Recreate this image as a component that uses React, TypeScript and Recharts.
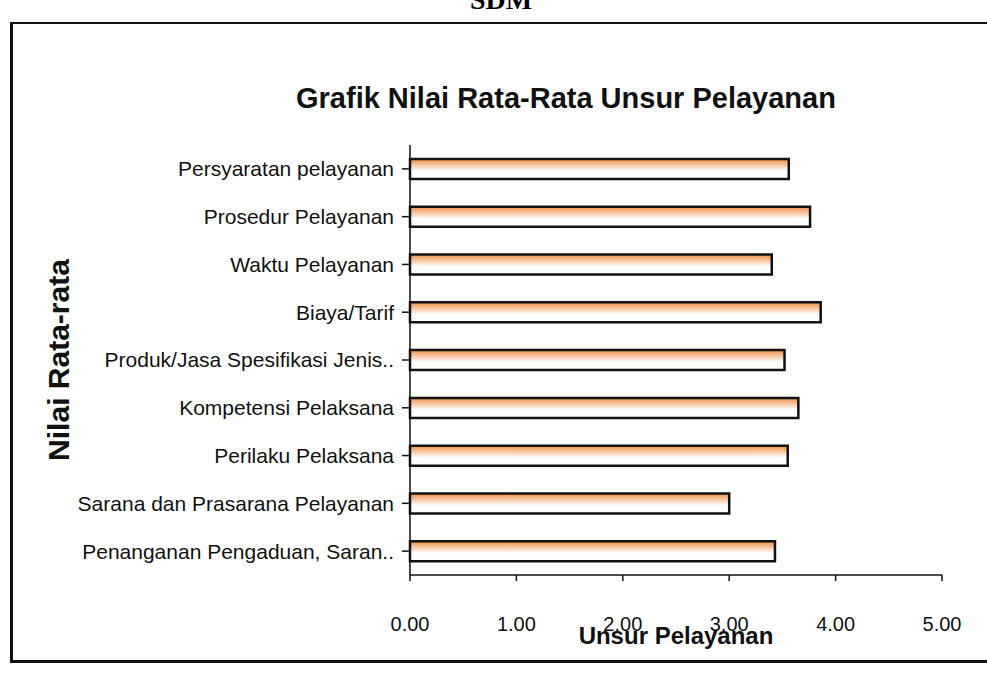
import React from 'react'
import { Bar, BarChart, Label, XAxis, YAxis } from 'recharts'

const categories = [
  'Persyaratan pelayanan',
  'Prosedur Pelayanan',
  'Waktu Pelayanan',
  'Biaya/Tarif',
  'Produk/Jasa Spesifikasi Jenis..',
  'Kompetensi Pelaksana',
  'Perilaku Pelaksana',
  'Sarana dan Prasarana Pelayanan',
  'Penanganan Pengaduan, Saran..',
]

const nilai = [3.56, 3.76, 3.4, 3.86, 3.52, 3.65, 3.55, 3.0, 3.43]

const xTicks = [0, 1, 2, 3, 4, 5]

const data = categories.map((name, i) => ({ name, nilai: nilai[i] }))

const font = '"Liberation Sans", Arial, sans-serif'

export default function App() {
  return (
    <div style={{ position: 'absolute', left: 0, top: 0, width: 987, height: 680, background: '#fff', overflow: 'hidden', fontFamily: font }}>
      <div style={{ position: 'absolute', left: 470, top: -16, fontFamily: '"Liberation Serif", serif', fontWeight: 'bold', fontSize: 28 }}>
        SDM
      </div>
      {/* page frame */}
      <div style={{ position: 'absolute', left: 10, top: 22, width: 1000, height: 636, borderLeft: '3px solid #111', borderTop: '2px solid #111', borderBottom: '3px solid #111' }} />
      <div style={{ position: 'absolute', left: 296, top: 82, fontWeight: 'bold', fontSize: 29, color: '#111', whiteSpace: 'nowrap' }}>
        Grafik Nilai Rata-Rata Unsur Pelayanan
      </div>
      <div style={{ position: 'absolute', left: 0, top: 0 }}>
        <BarChart
          width={987}
          height={680}
          data={data}
          layout="vertical"
          margin={{ top: 145, right: 45, bottom: 28, left: 0 }}
          barSize={20}
        >
          <defs>
            <linearGradient id="barFill" x1="0" y1="0" x2="0" y2="1">
              <stop offset="0%" stopColor="#EE8E45" />
              <stop offset="60%" stopColor="#FFFFFF" />
              <stop offset="100%" stopColor="#FFFFFF" />
            </linearGradient>
          </defs>
          <XAxis
            type="number"
            domain={[0, 5]}
            ticks={xTicks}
            height={77}
            tickFormatter={(v: number) => v.toFixed(2)}
            tick={{ fill: '#111', fontSize: 20, fontFamily: font }}
            tickMargin={36}
            stroke="#111"
            strokeWidth={1.5}
          >
            <Label value="Unsur Pelayanan" position="insideBottom" offset={8} style={{ fill: '#111', fontSize: 24, fontWeight: 'bold', fontFamily: font }} />
          </XAxis>
          <YAxis
            type="category"
            dataKey="name"
            width={410}
            tick={{ fill: '#111', fontSize: 21, fontFamily: font }}
            tickSize={8}
            tickMargin={8}
            stroke="#111"
            strokeWidth={1.5}
            interval={0}
          >
            <Label value="Nilai Rata-rata" angle={-90} position="insideLeft" offset={58} style={{ fill: '#111', fontSize: 30, fontWeight: 'bold', fontFamily: font, textAnchor: 'middle' }} />
          </YAxis>
          <Bar dataKey="nilai" fill="url(#barFill)" stroke="#111" strokeWidth={2.5} isAnimationActive={false} />
        </BarChart>
      </div>
    </div>
  )
}
